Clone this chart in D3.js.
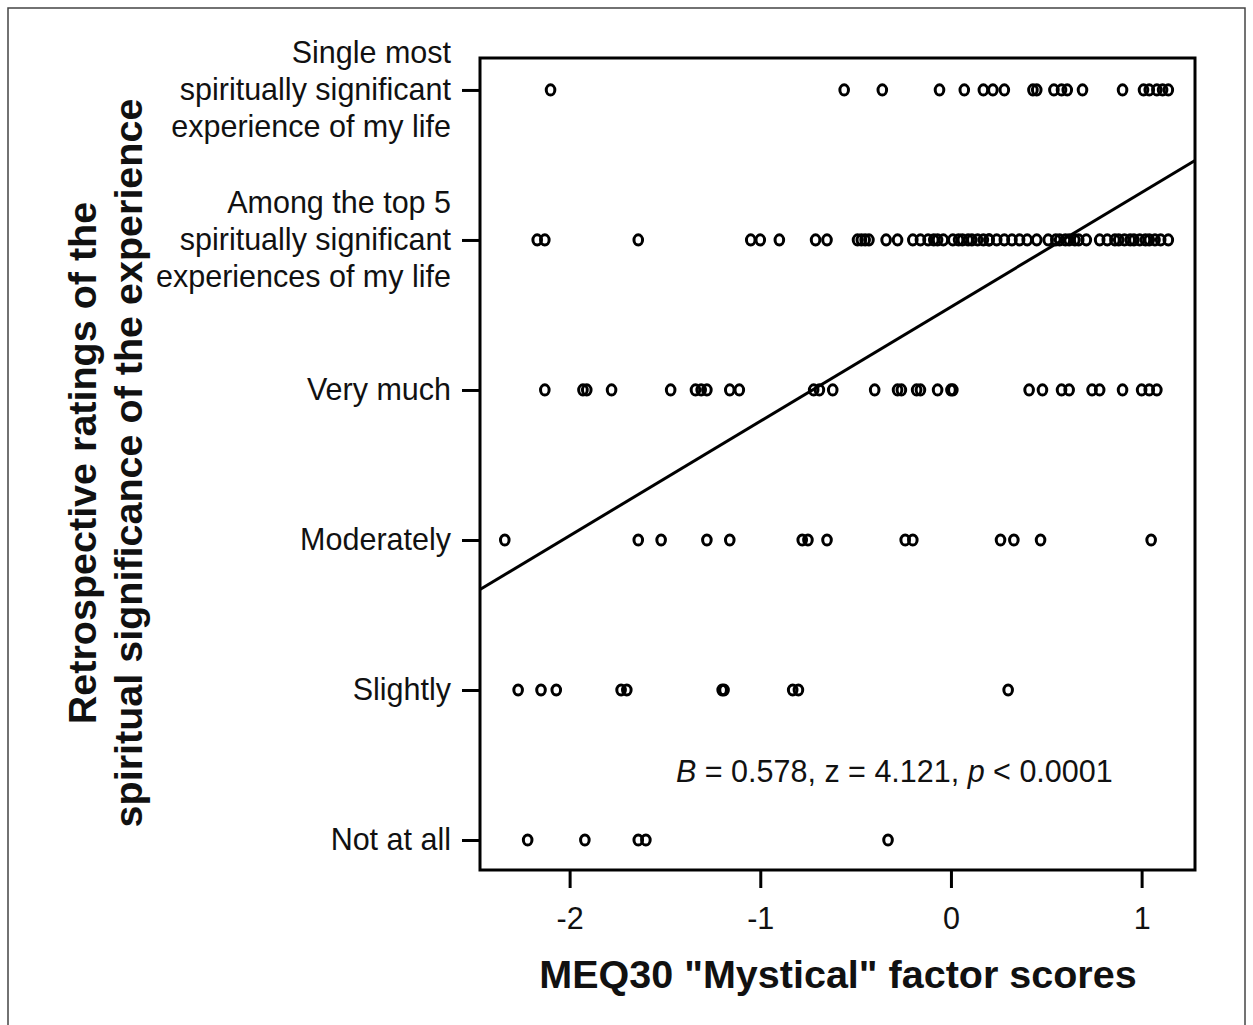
<!DOCTYPE html>
<html>
<head>
<meta charset="utf-8">
<script src="https://cdn.jsdelivr.net/npm/d3@7"></script>
<style>
  body { margin: 0; background: #fff; }
  svg { display: block; font-family: "Liberation Sans", Arial, sans-serif; }
</style>
</head>
<body>
<svg id="chart" width="1253" height="1025"></svg>
<script>
// Categories (ordinal ratings, 0 = Not at all ... 5 = Single most)
const categories = [
  ["Not at all"],
  ["Slightly"],
  ["Moderately"],
  ["Very much"],
  ["Among the top 5", "spiritually significant", "experiences of my life"],
  ["Single most", "spiritually significant", "experience of my life"]
];
// MEQ30 factor scores per rating level
const scoresNotAtAll = [-2.22, -1.92, -1.64, -1.60, -0.33];
const scoresSlightly = [-2.27, -2.15, -2.07, -1.73, -1.70, -1.20, -1.19, -0.83, -0.80, 0.30];
const scoresModerately = [-2.34, -1.64, -1.52, -1.28, -1.16, -0.78, -0.75, -0.65, -0.24, -0.20, 0.26, 0.33, 0.47, 1.05];
const scoresVeryMuch = [-2.13, -1.93, -1.91, -1.78, -1.47, -1.34, -1.31, -1.28, -1.16, -1.11,
  -0.72, -0.69, -0.62, -0.40, -0.28, -0.26, -0.18, -0.16, -0.07, 0.00, 0.01,
  0.41, 0.48, 0.58, 0.62, 0.74, 0.78, 0.90, 1.00, 1.04, 1.08];
const scoresTop5 = [-2.17, -2.13, -1.64, -1.05, -1.00, -0.90, -0.71, -0.65,
  -0.49, -0.47, -0.45, -0.43, -0.34, -0.28, -0.20, -0.16, -0.12, -0.09, -0.07, -0.04,
  0.01, 0.04, 0.06, 0.09, 0.11, 0.14, 0.17, 0.20,
  0.20, 0.24, 0.28, 0.32, 0.36, 0.40, 0.45,
  0.51, 0.55, 0.57, 0.60, 0.62, 0.65, 0.67, 0.71,
  0.78, 0.82, 0.86, 0.88, 0.91, 0.94, 0.96, 0.99, 1.02, 1.04, 1.07, 1.10, 1.14];
const scoresSingleMost = [-2.10, -0.56, -0.36, -0.06, 0.07, 0.17, 0.22, 0.28, 0.43, 0.45,
  0.54, 0.58, 0.61, 0.69, 0.90, 1.01, 1.04, 1.08, 1.11, 1.14];
const seriesByLevel = [scoresNotAtAll, scoresSlightly, scoresModerately, scoresVeryMuch, scoresTop5, scoresSingleMost];
// Fitted line endpoints (x score, rating level)
const fitX = [-2.47, 1.28];
const fitY = [1.67, 4.53];
const xTicks = [-2, -1, 0, 1];
const xTitle = 'MEQ30 "Mystical" factor scores';
const yTitle = ["Retrospective ratings of the", "spiritual significance of the experience"];

const svg = d3.select("#chart");
const L = 480, R = 1195, T = 58, B = 870;
const labelSize = 30.5, titleSize = 39.5;

// outer frame
svg.append("rect").attr("x", 8).attr("y", 8).attr("width", 1237).attr("height", 1040)
  .attr("fill", "none").attr("stroke", "#444").attr("stroke-width", 1.5);

const x = d3.scaleLinear().domain([-2.47, 1.28]).range([L, R]);
const y = d3.scaleLinear().domain([-0.2, 5.213]).range([B, T]);

// plot box
svg.append("rect").attr("x", L).attr("y", T).attr("width", R - L).attr("height", B - T)
  .attr("fill", "none").attr("stroke", "#000").attr("stroke-width", 3);

// x axis
const xAxis = d3.axisBottom(x).tickValues(xTicks).tickSize(18).tickSizeOuter(0)
  .tickFormat(d => d < 0 ? "-" + Math.abs(d) : String(d));
const gx = svg.append("g").attr("transform", `translate(0,${B})`).call(xAxis);
gx.select(".domain").remove();
gx.selectAll(".tick line").attr("stroke", "#000").attr("stroke-width", 3);
gx.selectAll(".tick text").attr("font-size", labelSize).attr("fill", "#111").attr("y", 0).attr("dy", 0)
  .attr("transform", "translate(0,59)")
  .attr("font-family", "Liberation Sans, Arial, sans-serif");

// y axis
const yAxis = d3.axisLeft(y).tickValues(d3.range(categories.length)).tickSize(18).tickSizeOuter(0).tickFormat("");
const gy = svg.append("g").attr("transform", `translate(${L},0)`).call(yAxis);
gy.select(".domain").remove();
gy.selectAll(".tick line").attr("stroke", "#000").attr("stroke-width", 3);

// y tick labels (multi-line)
categories.forEach((lines, i) => {
  const cy = y(i);
  const lh = 37;
  const t = svg.append("text").attr("text-anchor", "end").attr("font-size", labelSize).attr("fill", "#111");
  lines.forEach((ln, j) => {
    t.append("tspan").attr("x", 451).attr("y", cy + (j - (lines.length - 1) / 2) * lh + 10).text(ln);
  });
});

// points
seriesByLevel.forEach((vals, i) => {
  svg.append("g").selectAll("ellipse").data(vals).join("ellipse")
    .attr("cx", d => x(d)).attr("cy", y(i))
    .attr("rx", 4.3).attr("ry", 5.1).attr("fill", "none")
    .attr("stroke", "#000").attr("stroke-width", 3);
});

// fitted line
svg.append("line")
  .attr("x1", x(fitX[0])).attr("y1", y(fitY[0]))
  .attr("x2", x(fitX[1])).attr("y2", y(fitY[1]))
  .attr("stroke", "#000").attr("stroke-width", 3);

// annotation
const ann = svg.append("text").attr("x", 676).attr("y", 782).attr("font-size", labelSize).attr("fill", "#111");
ann.append("tspan").attr("font-style", "italic").text("B");
ann.append("tspan").text(" = 0.578, z = 4.121, ");
ann.append("tspan").attr("font-style", "italic").text("p");
ann.append("tspan").text(" < 0.0001");

// axis titles
svg.append("text").attr("x", 838).attr("y", 988).attr("text-anchor", "middle")
  .attr("font-size", titleSize).attr("font-weight", "bold").attr("fill", "#111").text(xTitle);

const yt = svg.append("text").attr("transform", `translate(0,463) rotate(-90)`)
  .attr("text-anchor", "middle").attr("font-size", titleSize).attr("font-weight", "bold").attr("fill", "#111");
yt.append("tspan").attr("x", 0).attr("y", 96).text(yTitle[0]);
yt.append("tspan").attr("x", 0).attr("y", 142).text(yTitle[1]);
</script>
</body>
</html>
